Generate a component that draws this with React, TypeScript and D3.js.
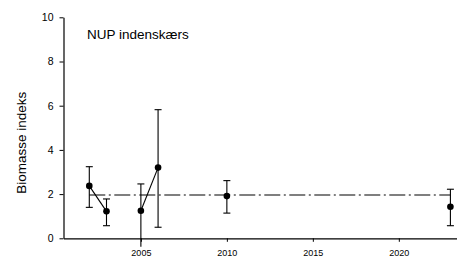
import { useEffect, useRef } from "react";
import * as d3 from "d3";

const W = 457;
const H = 257;
const X0 = 63.5;
const X1 = 467.6;
const Y0 = 238.3;
const Y1 = 17.3;

const FONT = '"Liberation Sans", Arial, sans-serif';

// survey years and biomass index (mean with error bars)
const YEARS = [2002, 2003, 2005, 2006, 2010, 2023];
const BIOMASS = [2.37, 1.22, 1.25, 3.2, 1.91, 1.43];
const UPPER = [3.24, 1.78, 2.46, 5.82, 2.61, 2.22];
const LOWER = [1.4, 0.57, -0.38, 0.5, 1.14, 0.57];
const MEAN_LEVEL = 1.96;

const X_TICKS = [2005, 2010, 2015, 2020];
const Y_TICKS = [0, 2, 4, 6, 8, 10];
const TITLE = "NUP indenskærs";
const Y_LABEL = "Biomasse indeks";

export default function App() {
  const svgRef = useRef<SVGSVGElement>(null);

  useEffect(() => {
    const svg = d3.select(svgRef.current);
    svg.selectAll("*").remove();

    const x = d3.scaleLinear().domain([2000.5, 2024]).range([X0, X1]);
    const y = d3.scaleLinear().domain([0, 10]).range([Y0, Y1]);

    const rows = YEARS.map((year, i) => ({
      year,
      value: BIOMASS[i],
      hi: UPPER[i],
      lo: LOWER[i],
    }));

    // mean line (dash-dot)
    svg
      .append("line")
      .attr("x1", x(YEARS[0]))
      .attr("x2", x(YEARS[YEARS.length - 1]))
      .attr("y1", y(MEAN_LEVEL))
      .attr("y2", y(MEAN_LEVEL))
      .attr("stroke", "#555")
      .attr("stroke-width", 1.4)
      .attr("stroke-dasharray", "16,3.5,2,3.5");

    // axes
    svg
      .append("g")
      .attr("transform", `translate(0,${Y0})`)
      .call(
        d3
          .axisBottom(x)
          .tickValues(X_TICKS)
          .tickFormat((d) => String(d))
          .tickSize(3.5)
          .tickSizeOuter(0)
          .tickPadding(8)
      )
      .call((g) => g.select(".domain").attr("stroke", "#000").attr("stroke-width", 1.2))
      .call((g) => g.selectAll(".tick line").attr("stroke", "#000"))
      .call((g) =>
        g
          .selectAll(".tick text")
          .attr("fill", "#000")
          .attr("font-size", 9)
          .attr("font-family", FONT)
      );

    svg
      .append("g")
      .attr("transform", `translate(${X0},0)`)
      .call(
        d3
          .axisLeft(y)
          .tickValues(Y_TICKS)
          .tickFormat((d) => String(d))
          .tickSize(4)
          .tickSizeOuter(0)
          .tickPadding(6)
      )
      .call((g) => g.select(".domain").attr("stroke", "#000").attr("stroke-width", 1.2))
      .call((g) => g.selectAll(".tick line").attr("stroke", "#000"))
      .call((g) =>
        g
          .selectAll(".tick text")
          .attr("fill", "#000")
          .attr("font-size", 10.5)
          .attr("font-family", FONT)
      );

    // error bars
    const bars = svg.append("g").attr("stroke", "#000").attr("stroke-width", 1.1);
    rows.forEach((r) => {
      const cx = x(r.year);
      bars
        .append("line")
        .attr("x1", cx)
        .attr("x2", cx)
        .attr("y1", y(r.hi))
        .attr("y2", y(r.lo));
      [r.hi, r.lo]
        .filter((v) => v >= 0)
        .forEach((v) => {
          bars
            .append("line")
            .attr("x1", cx - 3.5)
            .attr("x2", cx + 3.5)
            .attr("y1", y(v))
            .attr("y2", y(v));
        });
    });

    // connect only consecutive years
    const line = d3
      .line<{ year: number; value: number }>()
      .x((d) => x(d.year))
      .y((d) => y(d.value));
    for (let i = 1; i < rows.length; i++) {
      if (rows[i].year - rows[i - 1].year === 1) {
        svg
          .append("path")
          .datum([rows[i - 1], rows[i]])
          .attr("d", line)
          .attr("fill", "none")
          .attr("stroke", "#000")
          .attr("stroke-width", 1.1);
      }
    }

    svg
      .append("g")
      .selectAll("circle")
      .data(rows)
      .join("circle")
      .attr("cx", (d) => x(d.year))
      .attr("cy", (d) => y(d.value))
      .attr("r", 3.3)
      .attr("fill", "#000");

    svg
      .append("text")
      .attr("x", 87)
      .attr("y", 39)
      .attr("font-size", 13.5)
      .attr("font-family", FONT)
      .attr("fill", "#000")
      .text(TITLE);

    svg
      .append("text")
      .attr("transform", `translate(26,${(Y0 + Y1) / 2 + 15}) rotate(-90)`)
      .attr("text-anchor", "middle")
      .attr("font-size", 13.5)
      .attr("font-family", FONT)
      .attr("fill", "#000")
      .text(Y_LABEL);
  }, []);

  return (
    <svg
      ref={svgRef}
      width={W}
      height={H}
      style={{ position: "absolute", left: 0, top: 0, background: "#fff" }}
    />
  );
}
